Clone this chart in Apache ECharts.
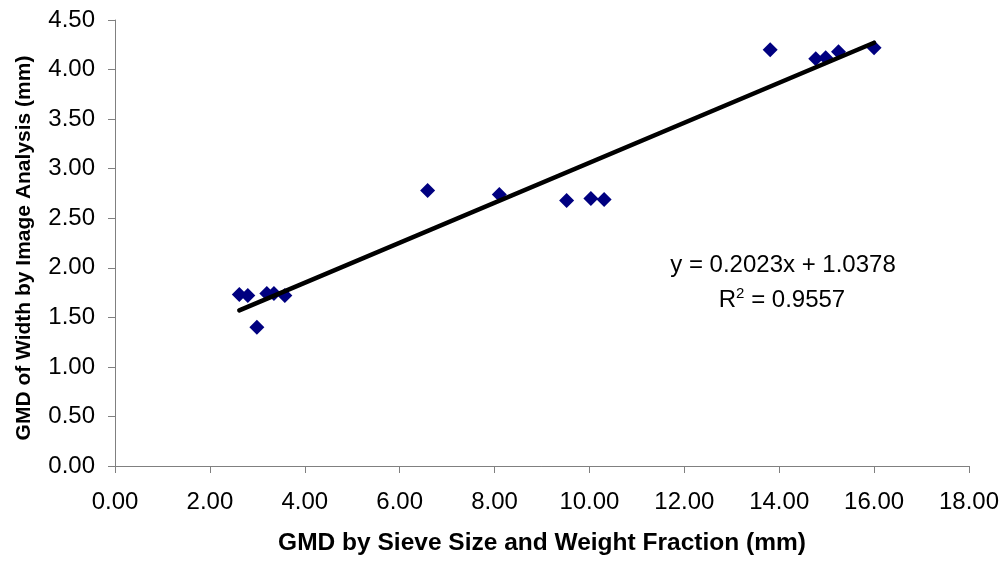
<!DOCTYPE html>
<html>
<head>
<meta charset="utf-8">
<script src="https://cdn.jsdelivr.net/npm/echarts@6/dist/echarts.min.js"></script>
<style>
html,body{margin:0;padding:0;background:#fff;}
#chart{width:1002px;height:561px;}
</style>
</head>
<body>
<div id="chart"></div>
<script>
// Data
var sieveGMD = [2.62, 2.80, 2.99, 3.20, 3.35, 3.58, 6.59, 8.10, 9.52, 10.03, 10.31, 13.81, 14.77, 14.98, 15.25, 16.00];
var imageGMD = [1.73, 1.72, 1.40, 1.74, 1.74, 1.72, 2.78, 2.74, 2.68, 2.70, 2.69, 4.20, 4.11, 4.12, 4.18, 4.22];
var trendX = [2.62, 16.00];
var trendY = [1.57, 4.27];
var equationText = 'y = 0.2023x + 1.0378';
var r2Value = '0.9557';
var xTitle = 'GMD by Sieve Size and Weight Fraction (mm)';
var yTitle = 'GMD of Width by Image Analysis (mm)';

var FONT = '"Liberation Sans", Arial, sans-serif';
var points = sieveGMD.map(function (x, i) { return [x, imageGMD[i]]; });
var trend = trendX.map(function (x, i) { return [x, trendY[i]]; });

var chart = echarts.init(document.getElementById('chart'), null, {renderer: 'canvas'});
chart.setOption({
  animation: false,
  backgroundColor: '#ffffff',
  grid: {left: 115, right: 33, top: 20, bottom: 95, containLabel: false},
  xAxis: {
    type: 'value', min: 0, max: 18, interval: 2,
    name: xTitle, nameLocation: 'middle', nameGap: 65,
    nameTextStyle: {fontFamily: FONT, fontSize: 24.5, fontWeight: 'bold', color: '#000'},
    axisLine: {show: true, onZero: false, lineStyle: {color: '#808080', width: 1}},
    axisTick: {show: true, inside: false, length: 7, lineStyle: {color: '#808080'}},
    axisLabel: {fontFamily: FONT, fontSize: 24, color: '#000', margin: 24,
      formatter: function (v) { return v.toFixed(2); }},
    splitLine: {show: false}
  },
  yAxis: {
    type: 'value', min: 0, max: 4.5, interval: 0.5,
    name: yTitle, nameLocation: 'middle', nameGap: 80, nameRotate: 90,
    nameTextStyle: {fontFamily: FONT, fontSize: 21, fontWeight: 'bold', color: '#000', padding: [0, 10, 0, 0]},
    axisLine: {show: true, onZero: false, lineStyle: {color: '#808080', width: 1}},
    axisTick: {show: true, inside: false, length: 7, lineStyle: {color: '#808080'}},
    axisLabel: {fontFamily: FONT, fontSize: 24, color: '#000', margin: 20,
      formatter: function (v) { return v.toFixed(2); }},
    splitLine: {show: false}
  },
  series: [
    {
      type: 'line', data: trend, symbol: 'none', silent: true, z: 3,
      lineStyle: {color: '#000', width: 4.5, cap: 'round'}
    },
    {
      type: 'scatter', data: points, symbol: 'diamond', symbolSize: 15, z: 2,
      itemStyle: {color: '#000080', opacity: 1}
    }
  ],
  graphic: [
    {
      type: 'text', x: 783, y: 265, z: 10,
      style: {text: equationText, font: '24px ' + FONT, fill: '#000', align: 'center', verticalAlign: 'middle'}
    },
    {
      type: 'text', x: 782, y: 300, z: 10,
      style: {
        text: 'R{sup|2} = ' + r2Value,
        font: '24px ' + FONT, fill: '#000', align: 'center', verticalAlign: 'middle',
        rich: {sup: {fontSize: 15, fontFamily: FONT, verticalAlign: 'top', padding: [0, 0, 12, 0]}}
      }
    }
  ]
});
</script>
</body>
</html>
